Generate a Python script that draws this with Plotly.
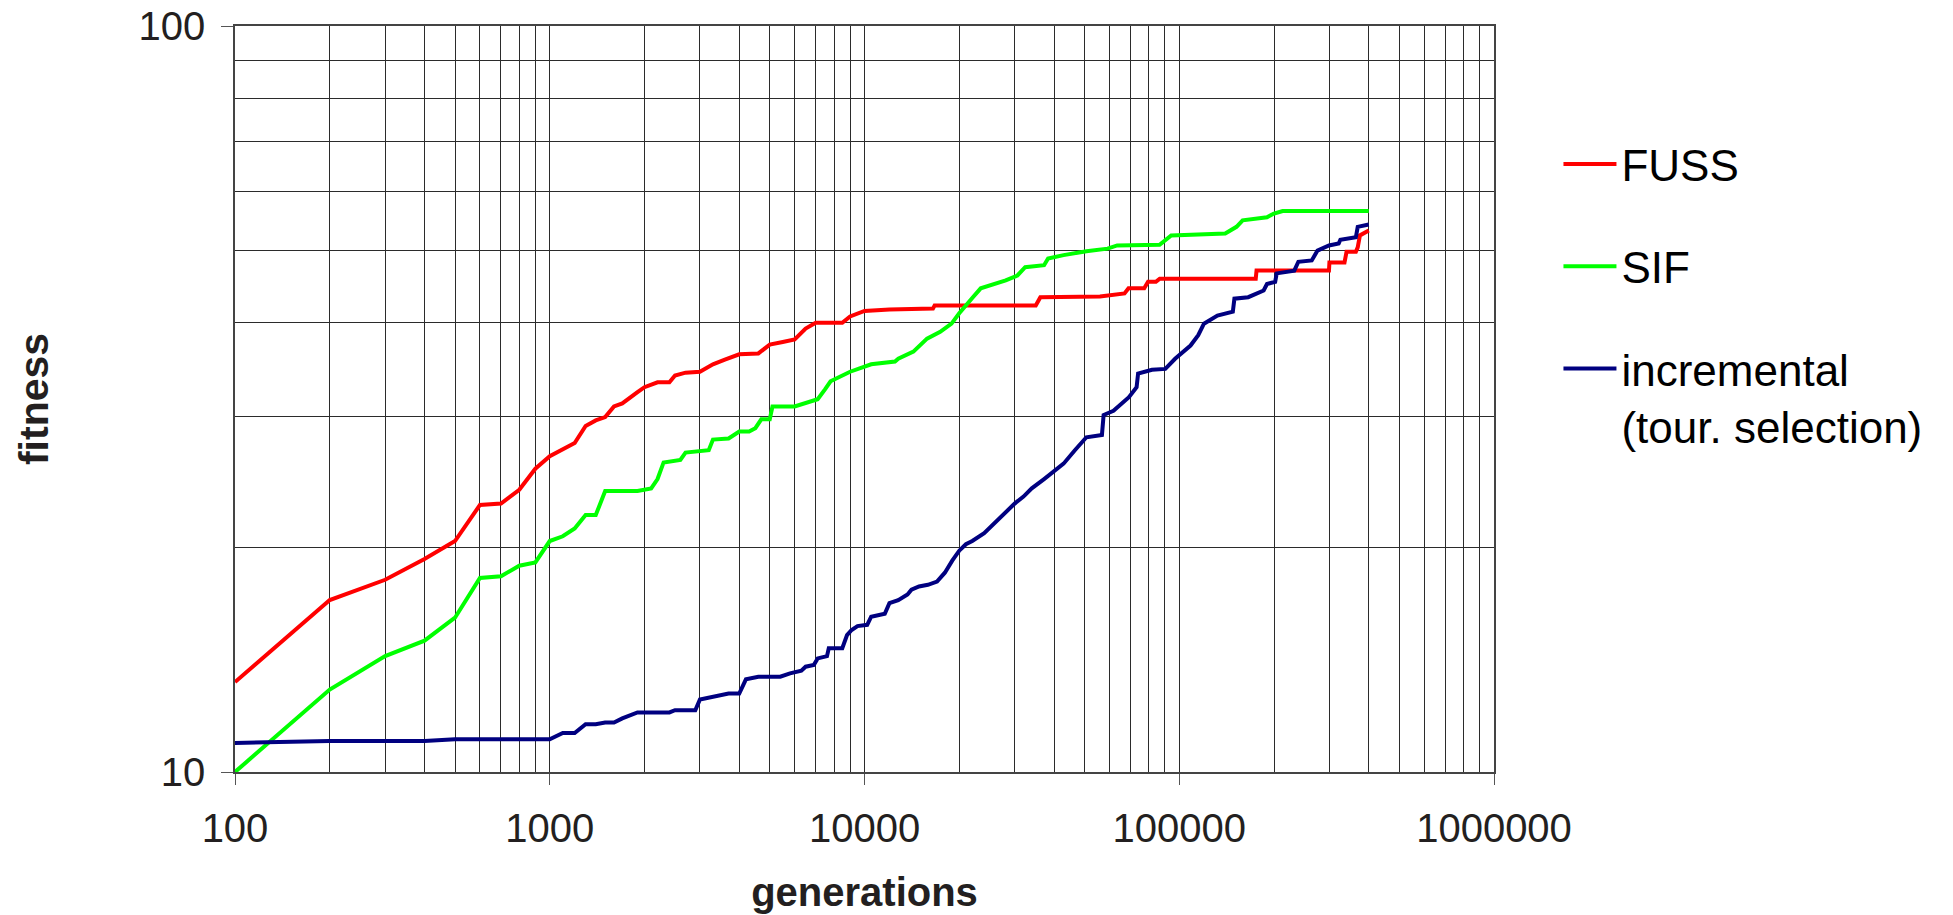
import plotly.graph_objects as go

# ---- data -------------------------------------------------------------
fuss_gen = [100, 200, 300, 400, 500, 600, 700, 800, 900, 1000, 1200, 1300, 1400, 1500,
            1600, 1700, 1900, 2000, 2200, 2400, 2500, 2700, 3000, 3300, 3600, 4000,
            4600, 5000, 5500, 6000, 6500, 7000, 8500, 9000, 10000, 12000, 16500, 16700,
            35000, 36200, 56000, 67000, 69000, 77400, 79600, 84300, 86700, 175000,
            176000, 299000, 300000, 335000, 340000, 364000, 369000, 375000, 400000]
fuss_fit = [13.2, 17.0, 18.1, 19.3, 20.4, 22.8, 22.9, 23.9, 25.5, 26.5, 27.6, 29.1, 29.6, 29.9,
            30.9, 31.2, 32.3, 32.8, 33.3, 33.3, 34.0, 34.3, 34.4, 35.2, 35.7, 36.3,
            36.4, 37.4, 37.7, 38.0, 39.3, 40.0, 40.0, 40.8, 41.5, 41.7, 41.8, 42.2,
            42.2, 43.3, 43.4, 43.8, 44.5, 44.5, 45.4, 45.4, 45.85, 45.85,
            47.0, 47.0, 48.2, 48.2, 49.8, 49.8, 50.5, 52.4, 53.2]

sif_gen = [100, 200, 300, 400, 500, 600, 700, 800, 900, 1000, 1100, 1200, 1300, 1400,
           1500, 1900, 2100, 2200, 2300, 2600, 2700, 3200, 3300, 3700, 4000, 4300, 4500,
           4700, 5000, 5100, 6000, 6500, 7100, 7500, 7800, 9000, 10500, 12500, 12800,
           14300, 15800, 17400, 18900, 20000, 20900, 22100, 23400, 25100, 28100, 30600,
           32400, 37200, 38300, 42900, 50700, 59200, 63500, 86600, 94300, 140000,
           152000, 159000, 190000, 199000, 213000, 400000]
sif_fit = [10.0, 12.9, 14.3, 15.0, 16.1, 18.2, 18.3, 18.9, 19.1, 20.4, 20.7, 21.2, 22.1, 22.1,
           23.8, 23.8, 24.0, 24.7, 26.0, 26.2, 26.8, 27.0, 27.9, 28.0, 28.6, 28.6, 28.9,
           29.7, 29.7, 30.9, 30.9, 31.2, 31.6, 32.6, 33.4, 34.4, 35.2, 35.5, 35.8,
           36.6, 38.1, 38.9, 39.9, 41.2, 42.2, 43.3, 44.5, 44.9, 45.6, 46.3,
           47.5, 47.8, 48.8, 49.3, 49.9, 50.3, 50.8, 50.9, 52.4, 52.7,
           53.8, 54.9, 55.4, 56.0, 56.5, 56.5]

inc_gen = [100, 200, 400, 500, 1000, 1100, 1200, 1300, 1400, 1500, 1600, 1700, 1900, 2400,
           2500, 2900, 3000, 3200, 3500, 3700, 4000, 4200, 4600, 5400, 5800, 6300, 6500,
           6900, 7100, 7600, 7700, 8500, 8800, 9100, 9500, 10200, 10500, 11600, 12000,
           12800, 13700, 14100, 14900, 15900, 17000, 18000, 19000, 20000, 21000, 22000,
           24000, 26000, 28000, 30000, 32000, 34000, 37200, 39900, 42900, 46600, 50700,
           56800, 57500, 61800, 69200, 73200, 74000, 81900, 90300, 97000, 108600,
           114900, 119800, 132200, 148000, 149700, 165600, 185400, 190000, 201700,
           204000, 232000, 239000, 263600, 274900, 299000, 321000, 325000, 364000,
           369000, 400000]
inc_fit = [10.94, 11.0, 11.0, 11.06, 11.06, 11.28, 11.28, 11.59, 11.59, 11.65, 11.65, 11.8,
           12.02, 12.02, 12.1, 12.1, 12.51, 12.57, 12.65, 12.74, 12.74, 13.31, 13.42, 13.42,
           13.56, 13.67, 13.84, 13.91, 14.2, 14.3, 14.65, 14.65, 15.26, 15.5, 15.69, 15.75,
           16.15, 16.3, 16.84, 17.0, 17.3, 17.55, 17.73, 17.82, 18.0, 18.5, 19.2, 19.8,
           20.2, 20.4, 20.9, 21.6, 22.3, 22.9, 23.4, 24.0, 24.7, 25.3, 25.9, 27.0, 28.1,
           28.3, 30.1, 30.5, 31.8, 32.8, 34.2, 34.6, 34.7, 35.8, 37.3,
           38.5, 39.9, 40.9, 41.4, 43.1, 43.3, 44.2, 45.1, 45.4,
           46.6, 47.0, 48.3, 48.5, 50.0, 50.8, 51.1, 51.7, 52.1,
           53.8, 54.2]

x_ticks = [100, 1000, 10000, 100000, 1000000]
x_tick_labels = ["100", "1000", "10000", "100000", "1000000"]
y_ticks = [10, 100]
y_tick_labels = ["10", "100"]

# minor grid positions: 2..9 within each decade
x_minor = [m * 10 ** e for e in range(2, 6) for m in range(2, 10)]
y_minor = [m * 10 for m in range(2, 10)]

FONT = "Liberation Sans, Arial, sans-serif"
TEXT = "#231f20"
GRID = "#2b2b2b"

series = [
    ("FUSS", fuss_gen, fuss_fit, "#ff0000"),
    ("SIF", sif_gen, sif_fit, "#00ff00"),
    ("incremental<br>(tour. selection)", inc_gen, inc_fit, "#000080"),
]

fig = go.Figure()
for name, gx, gy, color in series:
    fig.add_trace(go.Scatter(
        x=gx, y=gy, name=name, mode="lines", legendgroup=name,
        line=dict(color=color, width=4),
    ))

fig.update_layout(
    width=1953, height=915,
    margin=dict(l=234.5, r=458.5, t=25.7, b=143, autoexpand=False),
    paper_bgcolor="white", plot_bgcolor="white",
    font=dict(family=FONT, color=TEXT, size=40),
    showlegend=True,
    legend=dict(
        x=1.0512, xanchor="left", y=0.862, yanchor="top",
        font=dict(family=FONT, size=44, color="black"),
        itemwidth=53, tracegroupgap=42, valign="top",
        bgcolor="rgba(0,0,0,0)",
    ),
)

fig.update_xaxes(
    type="log", range=[2, 6], automargin=False,
    tickmode="array", tickvals=x_ticks, ticktext=x_tick_labels,
    ticks="outside", ticklen=11, tickcolor="#555", tickwidth=1,
    ticklabelstandoff=9,
    showgrid=True, gridcolor=GRID, gridwidth=1,
    minor=dict(tickmode="array", tickvals=x_minor, showgrid=True,
               gridcolor=GRID, gridwidth=1, ticks=""),
    showline=True, linecolor="#444", linewidth=1.5, mirror=True,
    zeroline=False,
    tickfont=dict(size=40, family=FONT, color=TEXT),
    title=dict(text="<b>generations</b>", font=dict(size=40, family=FONT, color=TEXT),
               standoff=29),
)
fig.update_yaxes(
    type="log", range=[1, 2], automargin=False,
    tickmode="array", tickvals=y_ticks, ticktext=y_tick_labels,
    ticks="outside", ticklen=12, tickcolor="#555", tickwidth=1,
    ticklabelstandoff=8,
    showgrid=True, gridcolor=GRID, gridwidth=1,
    minor=dict(tickmode="array", tickvals=y_minor, showgrid=True,
               gridcolor=GRID, gridwidth=1, ticks=""),
    showline=True, linecolor="#444", linewidth=1.5, mirror=True,
    zeroline=False,
    tickfont=dict(size=40, family=FONT, color=TEXT),
    title=dict(text="<b>fitness</b>", font=dict(size=41, family=FONT, color=TEXT),
               standoff=77),
)

fig.write_html("out.html")
